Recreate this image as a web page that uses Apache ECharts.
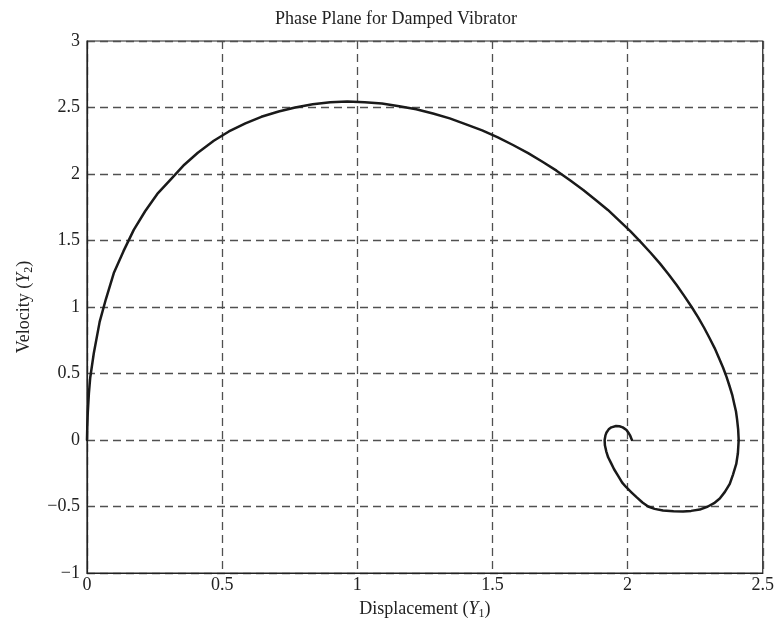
<!DOCTYPE html>
<html>
<head>
<meta charset="utf-8">
<script src="https://cdn.jsdelivr.net/npm/echarts@6/dist/echarts.min.js"></script>
<style>html,body{margin:0;padding:0;background:#fff}#c{width:777px;height:630px}</style>
</head>
<body>
<div id="c"></div>
<script>
// Displacement (Y1) values along the trajectory
var displacement = [
  0, 0.001, 0.003, 0.007, 0.012, 0.025, 0.047, 0.07, 0.10, 0.135, 0.173, 0.215, 0.26, 0.31, 0.36, 0.41,
  0.469, 0.525, 0.586, 0.645, 0.709, 0.77, 0.835, 0.9, 0.963, 1.027, 1.091, 1.155, 1.218, 1.28, 1.342,
  1.40, 1.462, 1.52, 1.576, 1.632, 1.685, 1.737, 1.787, 1.836, 1.882, 1.927, 1.969, 2.01, 2.048, 2.085,
  2.12, 2.152, 2.182, 2.21, 2.237, 2.261, 2.283, 2.303, 2.322, 2.338, 2.353, 2.366, 2.377, 2.387, 2.394,
  2.401, 2.405, 2.409, 2.411, 2.408, 2.402, 2.39, 2.378, 2.36, 2.341, 2.32, 2.297, 2.267, 2.235, 2.205,
  2.17, 2.131, 2.1, 2.076, 2.055, 2.033, 2.015, 1.995, 1.98, 1.965, 1.95, 1.938, 1.928, 1.921, 1.916,
  1.915, 1.918, 1.922, 1.93, 1.94, 1.957, 1.97, 1.982, 1.996, 2.003, 2.009, 2.013, 2.016
];
// Velocity (Y2) values along the trajectory
var velocity = [
  0, 0.1, 0.21, 0.35, 0.47, 0.65, 0.89, 1.06, 1.26, 1.42, 1.58, 1.72, 1.85, 1.96, 2.07, 2.16,
  2.25, 2.32, 2.38, 2.43, 2.47, 2.50, 2.525, 2.54, 2.545, 2.54, 2.53, 2.51, 2.487, 2.455, 2.418,
  2.375, 2.328, 2.275, 2.218, 2.157, 2.092, 2.025, 1.953, 1.88, 1.805, 1.73, 1.649, 1.57, 1.489, 1.408,
  1.326, 1.245, 1.163, 1.082, 1.0, 0.922, 0.844, 0.767, 0.691, 0.617, 0.545, 0.475, 0.406, 0.34, 0.276,
  0.214, 0.155, 0.08, 0, -0.1, -0.18, -0.26, -0.33, -0.39, -0.44, -0.475, -0.50, -0.523, -0.533, -0.537,
  -0.536, -0.53, -0.518, -0.50, -0.47, -0.43, -0.395, -0.355, -0.32, -0.27, -0.22, -0.17, -0.13, -0.085, -0.04,
  0, 0.035, 0.056, 0.08, 0.095, 0.105, 0.103, 0.095, 0.075, 0.055, 0.035, 0.015, 0
];
var xTicks = [0, 0.5, 1, 1.5, 2, 2.5];
var yTicks = [-1, -0.5, 0, 0.5, 1, 1.5, 2, 2.5, 3];

var pts = displacement.map(function (x, i) { return [x, velocity[i]]; });
var fam = '"Liberation Serif", "DejaVu Serif", serif';
function fmt(v) { return String(v).replace('-', '\u2212'); }
var rich = {
  n: {fontFamily: fam, fontSize: 18, color: '#222'},
  it: {fontFamily: fam, fontSize: 18, fontStyle: 'italic', color: '#222'},
  sub: {fontFamily: fam, fontSize: 12, color: '#222', padding: [10, 0, 0, 0]}
};

var chart = echarts.init(document.getElementById('c'), null, {renderer: 'canvas'});
chart.setOption({
  animation: false,
  backgroundColor: '#fff',
  title: {
    text: 'Phase Plane for Damped Vibrator',
    left: 391, top: 5, textAlign: 'center',
    textStyle: {fontFamily: fam, fontSize: 18, fontWeight: 'normal', color: '#222'}
  },
  grid: {left: 87, right: 14, top: 41, bottom: 57, show: true, borderColor: '#222', borderWidth: 1.2},
  xAxis: {
    type: 'value', min: xTicks[0], max: xTicks[xTicks.length - 1], interval: 0.5,
    name: '{n|Displacement (}{it|Y}{sub|1}{n|)}', nameLocation: 'middle', nameGap: 25,
    nameTextStyle: {fontFamily: fam, fontSize: 18, color: '#222', rich: rich},
    axisLine: {show: true, onZero: false, lineStyle: {color: '#222', width: 1.2}},
    axisTick: {show: false},
    axisLabel: {fontFamily: fam, fontSize: 18, color: '#222', margin: 3, formatter: fmt},
    splitLine: {show: true, lineStyle: {color: '#505050', type: [8, 5], width: 1.3}}
  },
  yAxis: {
    type: 'value', min: yTicks[0], max: yTicks[yTicks.length - 1], interval: 0.5,
    name: '{n|Velocity (}{it|Y}{sub|2}{n|)}', nameLocation: 'middle', nameGap: 52,
    nameTextStyle: {fontFamily: fam, fontSize: 18, color: '#222', rich: rich},
    axisLine: {show: true, onZero: false, lineStyle: {color: '#222', width: 1.2}},
    axisTick: {show: false},
    axisLabel: {fontFamily: fam, fontSize: 18, color: '#222', margin: 7, formatter: fmt},
    splitLine: {show: true, lineStyle: {color: '#505050', type: [8, 5], width: 1.3}}
  },
  series: [{
    type: 'line', data: pts, showSymbol: false, smooth: false,
    lineStyle: {color: '#1a1a1a', width: 2.5, join: 'round', cap: 'round'}
  }]
});
</script>
</body>
</html>
